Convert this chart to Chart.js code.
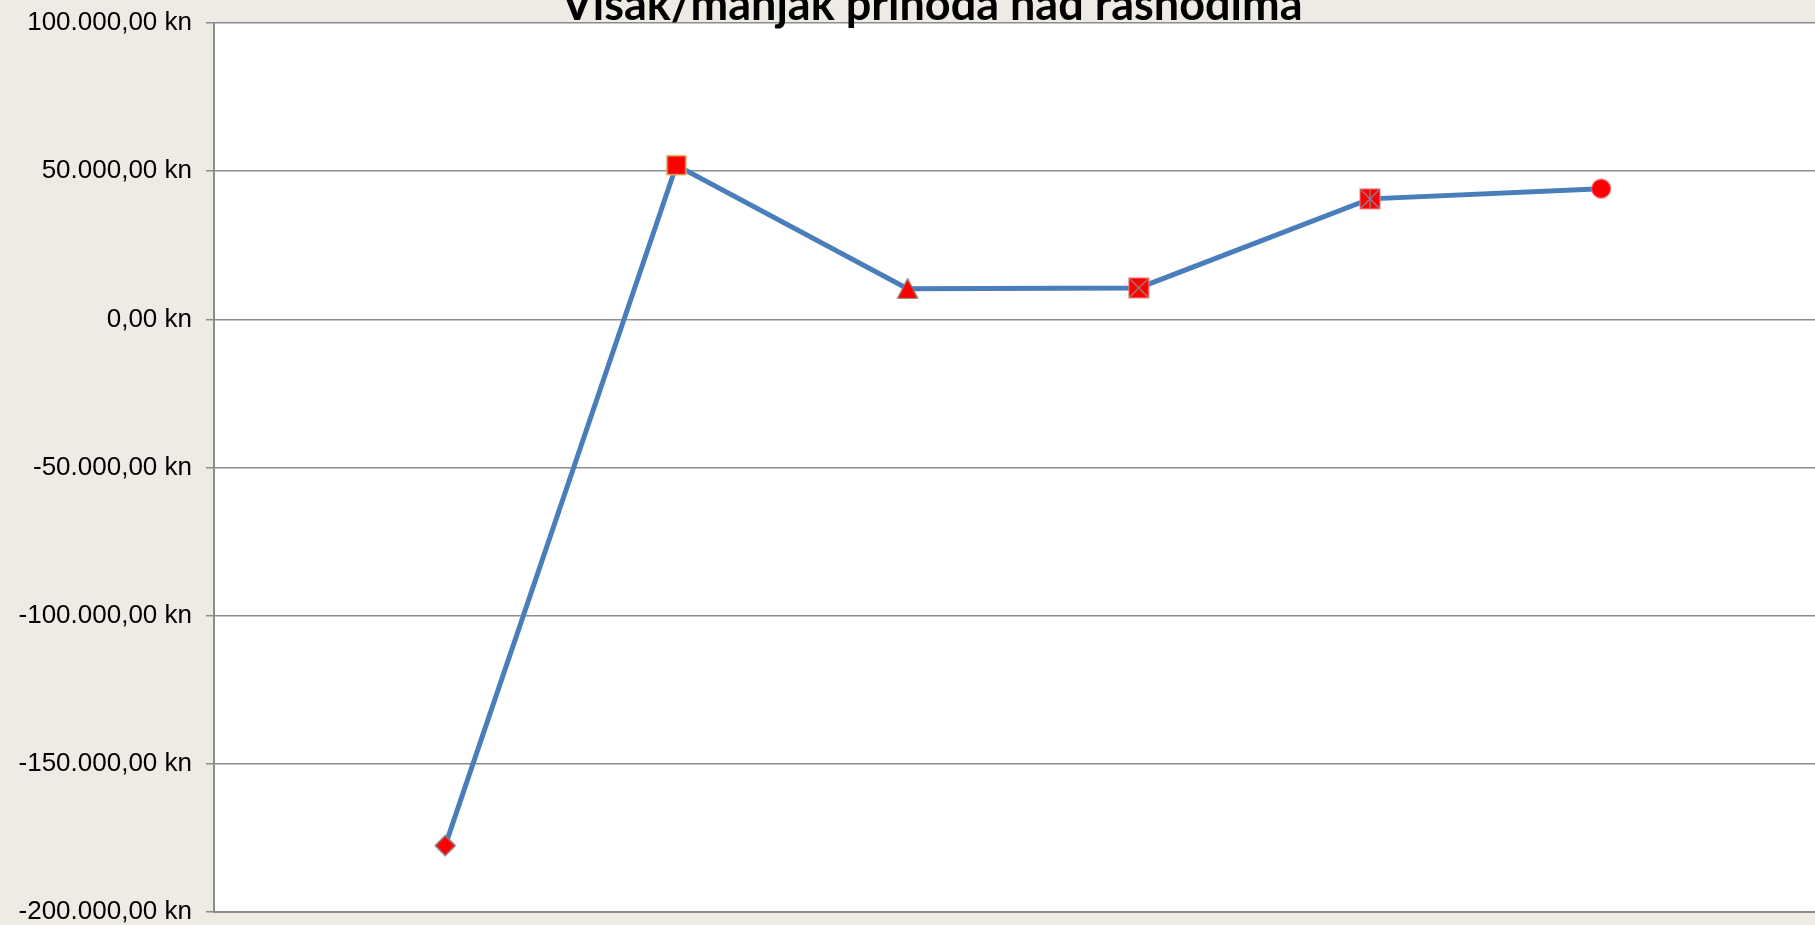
<!DOCTYPE html>
<html>
<head>
<meta charset="utf-8">
<script src="https://cdn.jsdelivr.net/npm/chart.js@4.4.1/dist/chart.umd.min.js"></script>
<style>
  html, body { margin: 0; padding: 0; background: #eeebe4; overflow: hidden; }
  #wrap { width: 1815px; height: 925px; position: relative; }
</style>
</head>
<body>
<div id="wrap"><canvas id="grafikon"></canvas></div>
<script>
// Podaci
const naslov = 'Višak/manjak prihoda nad rashodima';
const pozicije = [1, 2, 3, 4, 5, 6];
const visak = [-177600, 52000, 10300, 10600, 40650, 44100];
const oblici = ['romb', 'kvadrat', 'trokut', 'kvadratX', 'kvadratZvijezda', 'krug'];
const yMin = -200000;
const yMax = 100000;
const yKorak = 50000;

// Format "100.000,00 kn"
function formatKn(v) {
    const neg = v < 0;
    const cijeli = Math.abs(Math.round(v)).toString().replace(/\B(?=(\d{3})+(?!\d))/g, '.');
    return (neg ? '-' : '') + cijeli + ',00 kn';
}

// Markeri kao mali canvasi
function marker(tip) {
    const c = document.createElement('canvas');
    c.width = 24; c.height = 24;
    const g = c.getContext('2d');
    const m = 12;
    g.fillStyle = '#ff0000';
    g.lineWidth = 1;
    if (tip === 'romb') {
        g.beginPath();
        g.moveTo(m, m - 10); g.lineTo(m + 10, m); g.lineTo(m, m + 10); g.lineTo(m - 10, m); g.closePath();
        g.fill(); g.strokeStyle = '#7f7f7f'; g.lineWidth = 1.5; g.stroke();
    } else if (tip === 'kvadrat') {
        g.fillRect(m - 9.5, m - 9.5, 19, 19);
        g.strokeStyle = '#d9b26f'; g.lineWidth = 1.5; g.strokeRect(m - 9.5, m - 9.5, 19, 19);
    } else if (tip === 'trokut') {
        g.beginPath();
        g.moveTo(m, m - 10); g.lineTo(m + 10, m + 9.5); g.lineTo(m - 10, m + 9.5); g.closePath();
        g.fill(); g.strokeStyle = '#8a7560'; g.lineWidth = 1.2; g.stroke();
    } else if (tip === 'kvadratX' || tip === 'kvadratZvijezda') {
        g.fillRect(m - 10, m - 10, 20, 20);
        g.strokeStyle = '#f08080'; g.lineWidth = 1; g.strokeRect(m - 10, m - 10, 20, 20);
        g.strokeStyle = tip === 'kvadratX' ? '#8a8a8a' : '#7a8aa0';
        g.lineWidth = 1.2;
        g.beginPath();
        g.moveTo(m - 9, m - 9); g.lineTo(m + 9, m + 9);
        g.moveTo(m + 9, m - 9); g.lineTo(m - 9, m + 9);
        if (tip === 'kvadratZvijezda') { g.moveTo(m, m - 9.5); g.lineTo(m, m + 9.5); }
        g.stroke();
    } else {
        g.beginPath(); g.arc(m, m, 9.5, 0, Math.PI * 2);
        g.fill(); g.strokeStyle = '#f06a7a'; g.lineWidth = 1; g.stroke();
    }
    return c;
}

// Bijela pozadina područja grafa i naslov
const pozadina = {
    id: 'pozadina',
    beforeDraw(chart) {
        const { ctx, chartArea: a } = chart;
        ctx.save();
        ctx.fillStyle = '#ffffff';
        ctx.fillRect(a.left, a.top, a.right - a.left, a.bottom - a.top);
        ctx.restore();
    },
    afterDraw(chart) {
        const ctx = chart.ctx;
        ctx.save();
        ctx.font = 'bold 45px Lato, "Open Sans", sans-serif';
        ctx.fillStyle = '#000000';
        ctx.textAlign = 'center';
        ctx.textBaseline = 'alphabetic';
        ctx.fillText(naslov, 932, 20);
        ctx.restore();
    }
};

const ctx = document.getElementById('grafikon').getContext('2d');
new Chart(ctx, {
    type: 'line',
    data: {
        datasets: [{
            label: naslov,
            data: pozicije.map((x, i) => ({ x, y: visak[i] })),
            borderColor: '#4a7ebb',
            borderWidth: 5,
            pointStyle: oblici.map(marker),
            pointRadius: 10,
            pointHoverRadius: 10,
            tension: 0,
            fill: false
        }]
    },
    options: {
        responsive: true,
        maintainAspectRatio: false,
        animation: false,
        layout: { autoPadding: false, padding: { left: 0, right: 0, top: 23, bottom: 13 } },
        plugins: {
            legend: { display: false },
            title: { display: false },
            tooltip: { enabled: false }
        },
        scales: {
            x: {
                type: 'linear',
                min: 0,
                max: 6.925,
                ticks: { display: false },
                grid: { display: false, drawTicks: false },
                border: { display: true, color: '#8c8c8c', width: 2 },
                afterFit(s) { s.height = 0; s.paddingLeft = 0; s.paddingRight = 0; }
            },
            y: {
                min: yMin,
                max: yMax,
                ticks: {
                    stepSize: yKorak,
                    padding: 14,
                    color: '#000000',
                    font: { family: 'Arial, "Liberation Sans", sans-serif', size: 26 },
                    callback: v => formatKn(v)
                },
                grid: { color: '#8c8c8c', lineWidth: 1.5, tickLength: 8 },
                border: { display: true, color: '#8c8c8c', width: 2 },
                afterFit(s) { s.width = 214; s.paddingTop = 0; s.paddingBottom = 0; }
            }
        }
    },
    plugins: [pozadina]
});
</script>
</body>
</html>
